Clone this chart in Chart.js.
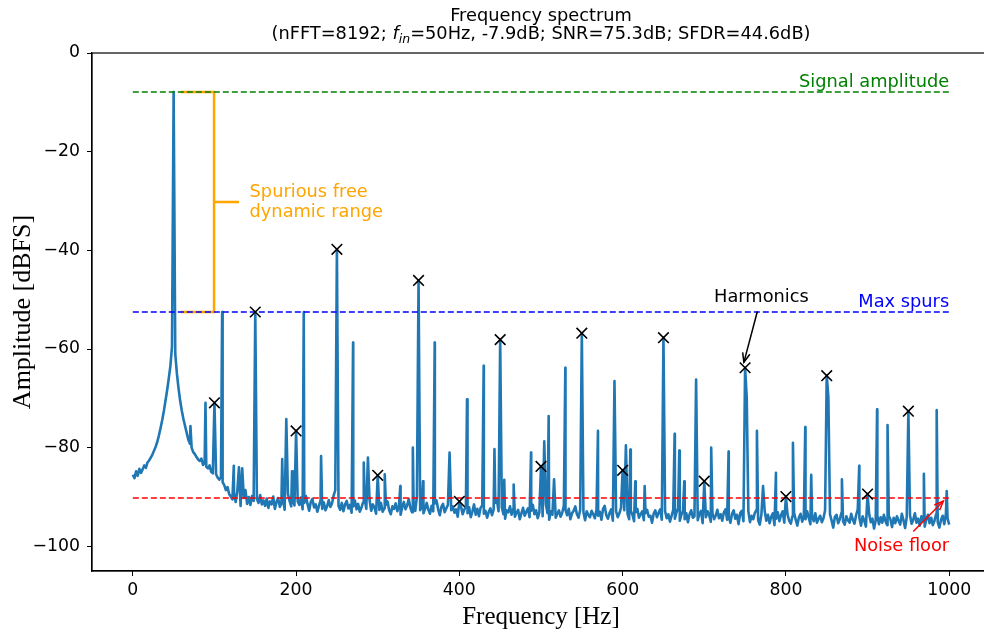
<!DOCTYPE html>
<html>
<head>
<meta charset="utf-8">
<title>Frequency spectrum</title>
<script src="https://cdn.jsdelivr.net/npm/chart.js@4.4.1/dist/chart.umd.min.js"></script>
<style>
    html, body { margin: 0; padding: 0; background: #fff; overflow: hidden; }
    #wrap { position: relative; width: 1000px; height: 633px; }
</style>
</head>
<body>
<div id="wrap"><canvas id="spectrum"></canvas></div>
<script>
// --- values ---
// noise floor / skirt of the spectrum, one value every 2 Hz from 0 to 1000 Hz
const noiseStepHz = 2;
const noiseDb = [
    -85.5,-86.2,-84.8,-85.7,-84.3,-85.1,-84.4,-83.6,-84.1,-83,-82.6,-82,-81.4,-80.6,-79.8,-78.8,-77.5,-76,-74.4,-72.6,
    -70.5,-68.4,-66,-63.5,-59.5,-56.7,-61,-65,-68,-70.5,-72.5,-74.2,-75.6,-77,-78.4,-79.2,-80,-80.9,-81.3,-81.9,
    -82.4,-82.7,-82.2,-83.5,-83.1,-83.9,-84.2,-83.6,-84.9,-85.2,-85.6,-85.4,-86.1,-86.5,-85.9,-87,-87.6,-88.6,-88,-89.4,
    -89.9,
    -90.5,-89.2,-91,-88.8,-90.6,-91.8,-89.5,-90.2,-88.6,-91.4,-90,-91.6,-89.8,-90.8,-92,-90.4,-91.2,-89.6,-91.5,-90.7,
    -91.8,-90.3,-92.2,-90.9,-91.5,-89.9,-92.4,-91,-90.2,-92,-91.3,-90.5,-92.6,-91.1,-89.4,-90.8,-91.9,-90.6,-91.7,-92.3,
    -90.9,-91.6,-90.1,-92.5,-91.2,-89.8,-91.4,-92.8,-91,-90.4,-92.1,-91.5,-93,-91.8,-90.7,-92.4,-91.1,-92.7,-91.9,-90.6,
    -92,-91.3,-89.7,-88.6,-90.5,-91.8,-92.6,-91.2,-92.9,-91.5,-90.8,-92.3,-91.6,-93.2,-91.9,-90.7,-92.5,-91.4,-93,-92.2,
    -91.1,-90.3,-92.4,-91.7,-90.6,-92.8,-91.5,-92.1,-93.4,-91.8,-92.6,-91.2,-93,-92.3,-91.6,-90.9,-92.7,-93.5,-91.9,-92.4,
    -91.3,-92.9,-91.8,-93.6,-92.1,-91,-92.5,-91.7,-90.4,-92.2,-93.1,-91.6,-92.8,-89.9,-91.5,-92.7,-91.9,-93.3,-92.4,-91.2,
    -92.6,-93.4,-91.8,-92.9,-91.3,-90.7,-92.5,-93.7,-92,-91.4,-93.1,-92.3,-91.6,-93.8,-92.7,-91.9,-93.2,-92.5,-94,-92.8,
    -91.9,-93.5,-92.6,-91.8,-93.3,-92.1,-94.1,-92.9,-91.5,-93.6,-92.4,-93.9,-92.2,-91.7,-93.4,-92.8,-94.2,-93,-92.3,-93.7,
    -92.5,-91.2,-90.6,-92.9,-93.8,-92.1,-93.5,-94.4,-92.7,-93.1,-91.9,-93.6,-92.4,-94,-93.2,-92.6,-94.5,-93.3,-92.2,-93.8,
    -93,-92.3,-94.1,-92.8,-91.6,-93.5,-92.7,-94.3,-93.1,-92.4,-93.9,-92.2,-91.5,-93.3,-94.6,-92.9,-93.6,-92.5,-94.2,-93.4,
    -92.7,-94,-93.2,-91.8,-92.6,-93.7,-92.4,-94.5,-93.3,-92.8,-91.9,-93.5,-94.2,-92.6,-93.9,-93.1,-94.7,-92.9,-93.6,-94.1,
    -92.8,-93.5,-94.3,-92.6,-93.8,-93,-94.6,-92.4,-91.8,-93.7,-94.4,-93.2,-92.5,-94.8,-93.6,-92.9,-94.1,-93.3,-92.2,-93.9,
    -92.7,-91.9,-93.4,-94.5,-92.8,-93.6,-94.9,-93.1,-92.4,-94.2,-93.5,-92.9,-94.7,-93.3,-92.6,-94,-93.8,-95.2,-93.4,-92.7,
    -94.1,-93.2,-92.5,-94.6,-93.7,-92.9,-94.3,-93.5,-95,-93.8,-92.6,-94.4,-93.1,-92.3,-94.8,-93.6,-92.8,-94.5,-93.3,-95.1,
    -93.5,-92.7,-94.2,-93.9,-92.4,-94.7,-93.4,-92.8,-95.3,-93.6,-94.1,-92.9,-93.7,-95,-93.2,-94.5,-93.8,-92.6,-94.3,-93.5,
    -94.8,-93.1,-92.5,-94.6,-93.9,-95.2,-93.4,-92.7,-94.4,-93.6,-95.5,-93.3,-92.8,-94.9,-93.7,-94.2,-92.9,-95.1,-93.8,-94.5,
    -93.2,-92.6,-94.7,-95.6,-93.5,-94.1,-92.8,-94.8,-93.6,-95.3,-94,-93.3,-95.7,-94.4,-93.1,-94.9,-93.7,-92.9,-95.2,-94.3,
    -93.6,-94.8,-95.4,-93.9,-93.2,-94.6,-95.8,-94.1,-93.4,-95,-93.8,-94.5,-92.9,-94.2,-95.5,-93.7,-94.9,-93.3,-95.2,-94.4,
    -93.8,-95.1,-94.3,-92.7,-94.6,-95.9,-93.5,-94.8,-96.2,-94,-93.6,-95.3,-94.5,-93.2,-94.9,-95.6,-93.9,-94.7,-95.2,-93.4,
    -94.6,-95.4,-93.7,-92.5,-94.2,-95.8,-93.9,-94.8,-96,-94.3,-93.5,-95.1,-94.4,-96.4,-94.7,-93.8,-95.5,-94.1,-95.2,-93.6,
    -94.9,-95.7,-93.8,-94.5,-96.1,-94.2,-95.3,-93.9,-94.8,-95.6,-93.4,-94.7,-96.3,-94.1,-95,-93.7,-95.4,-94.6,-93.3,-95.2,
    -94.4,-95.8,-93.9,-94.9,-96,-94.5,-93.6,-95.3,-94.2,-95.7,-94.8,-93.5,-95.1,-96.2,-94.6,-93.8,-95.5,-93.4,-94.3,-95.6
];

// fundamental
const signalHz = 50;
const signalDb = -7.9;

// non-harmonic spurs
const spurFreqHz = [70.6, 89, 109.4, 123.7, 130, 134, 183, 188, 195, 209.4, 230.6, 269.8, 282.9, 288, 308.6,
    327.7, 343, 355.5, 369.8, 388, 409.4, 429.8, 443, 455, 466.5, 487.8, 504, 509.4, 516, 529.8, 569.8, 590,
    604, 609.4, 615.5, 627, 663.7, 669.4, 675.5, 690, 708.5, 729.8, 752, 764.5, 772, 787.8, 808.6, 823.7, 831,
    852, 868.6, 889.8, 911.7, 924.5, 969, 984.7, 997];
const spurDb = [-75.6, -70.9, -52.5, -83.7, -84, -84.2, -82.3, -74.2, -84.8, -52.5, -81.7, -58.7, -83, -82, -85.4,
    -87.8, -80, -86.8, -58.7, -81, -70.2, -63.4, -80.3, -86.5, -87.5, -81, -78.7, -73.6, -86.4, -63.8, -76.6, -66.5,
    -79.5, -80.4, -86.8, -87.8, -77.2, -80.6, -86.8, -66.2, -80, -80.8, -69.8, -76.6, -87.8, -85.1, -79, -75.8, -85.5,
    -69.8, -86.4, -83.7, -72.2, -75.4, -85.3, -72.4, -88.8];

// harmonics (marked with x)
const harmonicFreqHz = [100, 150, 200, 250, 300, 350, 400, 450, 500, 550, 600, 650, 700, 750, 800, 850, 900, 950];
const harmonicDb = [-70.9, -52.5, -76.6, -39.8, -85.6, -46.1, -90.9, -58.1, -83.8, -56.8, -84.6, -57.7, -86.8,
    -63.8, -89.9, -65.4, -89.4, -72.6];

// reference levels
const maxSpurDb = -52.5;
const noiseFloorDb = -90.2;
const levelSpanHz = [0, 1000];
const sfdrBracketHz = [58.5, 99.5, 130];

const xTicks = [0, 200, 400, 600, 800, 1000];
const yTicks = [-100, -80, -60, -40, -20, 0];

const titleLine1 = 'Frequency spectrum';

// --- build the spectrum: noise grid plus the peaks ---
const peaks = [{ x: signalHz, y: signalDb }]
    .concat(spurFreqHz.map((f, i) => ({ x: f, y: spurDb[i] })))
    .concat(harmonicFreqHz.map((f, i) => ({ x: f, y: harmonicDb[i] })));
const spectrum = noiseDb
    .map((v, i) => ({ x: i * noiseStepHz, y: v }))
    .filter(p => !peaks.some(q => Math.abs(q.x - p.x) < 0.01))
    .concat(peaks)
    .sort((a, b) => a.x - b.x);

const levelLine = db => levelSpanHz.map(f => ({ x: f, y: db }));
const sfdrMid = (signalDb + maxSpurDb) / 2;
const bracket = [
    { x: sfdrBracketHz[0], y: signalDb }, { x: sfdrBracketHz[1], y: signalDb },
    { x: sfdrBracketHz[1], y: maxSpurDb }, { x: sfdrBracketHz[0], y: maxSpurDb },
    { x: sfdrBracketHz[1], y: null },
    { x: sfdrBracketHz[1], y: sfdrMid }, { x: sfdrBracketHz[2], y: sfdrMid }
];

const SANS = '"DejaVu Sans"';
const FS = 17.8;      // annotation / title text
const TICK_FS = 17.3;

function drawArrow(ctx, x0, y0, x1, y1, color) {
    ctx.strokeStyle = color;
    ctx.lineWidth = 1.5;
    ctx.beginPath();
    ctx.moveTo(x0, y0);
    ctx.lineTo(x1, y1);
    ctx.stroke();
    const a = Math.atan2(y1 - y0, x1 - x0);
    const len = 10, spread = 0.38;
    ctx.beginPath();
    ctx.moveTo(x1 - len * Math.cos(a - spread), y1 - len * Math.sin(a - spread));
    ctx.lineTo(x1, y1);
    ctx.lineTo(x1 - len * Math.cos(a + spread), y1 - len * Math.sin(a + spread));
    ctx.stroke();
}

// titles, frame and text annotations
const decorations = {
    id: 'decorations',
    afterDatasetsDraw(chart) {
        const { ctx, scales: { x, y } } = chart;
        const px = v => x.getPixelForValue(v);
        const py = v => y.getPixelForValue(v);
        ctx.save();
        ctx.textBaseline = 'alphabetic';
        ctx.font = FS + 'px ' + SANS;

        ctx.textAlign = 'right';
        ctx.fillStyle = '#008000';
        ctx.fillText('Signal amplitude', px(1000), py(signalDb) - 5);
        ctx.fillStyle = '#0000ff';
        ctx.fillText('Max spurs', px(1000), py(maxSpurDb) - 5);
        ctx.fillStyle = '#ff0000';
        ctx.fillText('Noise floor', px(1000), py(-101));
        drawArrow(ctx, px(956), py(-97), px(993), py(-90.8), '#ff0000');

        ctx.textAlign = 'left';
        ctx.fillStyle = '#ffa500';
        ctx.fillText('Spurious free', px(143), py(sfdrMid) - 4.5);
        ctx.fillText('dynamic range', px(143), py(sfdrMid) + 15);

        ctx.textAlign = 'center';
        ctx.fillStyle = '#000';
        ctx.fillText('Harmonics', px(770), py(-50.4));
        drawArrow(ctx, px(765), py(-52.4), px(748.5), py(-62.7), '#000');
        ctx.restore();
    },
    afterDraw(chart) {
        const { ctx, chartArea } = chart;
        ctx.save();
        ctx.strokeStyle = '#000';
        ctx.lineWidth = 1.2;
        ctx.strokeRect(chartArea.left, chartArea.top, chartArea.right - chartArea.left, chartArea.bottom - chartArea.top);

        const cx = (chartArea.left + chartArea.right) / 2;
        ctx.fillStyle = '#000';
        ctx.textBaseline = 'alphabetic';
        ctx.textAlign = 'center';
        ctx.font = FS + 'px ' + SANS;
        ctx.fillText(titleLine1, cx, 21);

        const parts = [
            { t: '(nFFT=8192; ', font: FS + 'px ' + SANS, dy: 0 },
            { t: 'f', font: 'italic ' + FS + 'px ' + SANS, dy: 0 },
            { t: 'in', font: 'italic ' + (FS * 0.7).toFixed(1) + 'px ' + SANS, dy: 3.5 },
            { t: '=50Hz, -7.9dB; SNR=75.3dB; SFDR=44.6dB)', font: FS + 'px ' + SANS, dy: 0 }
        ];
        let total = 0;
        parts.forEach(p => { ctx.font = p.font; p.w = ctx.measureText(p.t).width; total += p.w; });
        let xPos = cx - total / 2;
        ctx.textAlign = 'left';
        parts.forEach(p => {
            ctx.font = p.font;
            ctx.fillText(p.t, xPos, 39 + p.dy);
            xPos += p.w;
        });
        ctx.restore();
    }
};

const ctx = document.getElementById('spectrum').getContext('2d');
new Chart(ctx, {
    type: 'line',
    data: {
        datasets: [
            {
                label: 'Harmonics',
                data: harmonicFreqHz.map((f, i) => ({ x: f, y: harmonicDb[i] })),
                showLine: false,
                pointStyle: 'crossRot',
                pointRadius: 7.5,
                pointBorderWidth: 1.6,
                pointBorderColor: '#000',
                pointBackgroundColor: '#000',
                order: 1
            },
            {
                label: 'Signal amplitude',
                data: levelLine(signalDb),
                borderColor: '#008000', borderWidth: 1.5, borderDash: [6, 3],
                pointRadius: 0, order: 2
            },
            {
                label: 'Max spurs',
                data: levelLine(maxSpurDb),
                borderColor: '#0000ff', borderWidth: 1.5, borderDash: [6, 3],
                pointRadius: 0, order: 2
            },
            {
                label: 'Noise floor',
                data: levelLine(noiseFloorDb),
                borderColor: '#ff0000', borderWidth: 1.5, borderDash: [6, 3],
                pointRadius: 0, order: 2
            },
            {
                label: 'SFDR',
                data: bracket,
                borderColor: '#ffa500', borderWidth: 2.5,
                pointRadius: 0, spanGaps: false, order: 2
            },
            {
                label: 'Spectrum',
                data: spectrum,
                borderColor: '#1f77b4',
                borderWidth: 2.6,
                borderJoinStyle: 'round',
                pointRadius: 0,
                tension: 0,
                order: 3
            }
        ]
    },
    options: {
        responsive: true,
        maintainAspectRatio: false,
        animation: false,
        layout: { padding: { top: 53, left: 0, right: 10, bottom: 0 } },
        plugins: {
            legend: { display: false },
            tooltip: { enabled: false }
        },
        scales: {
            x: {
                type: 'linear',
                min: -50,
                max: 1050,
                afterBuildTicks: s => { s.ticks = xTicks.map(v => ({ value: v })); },
                afterFit: s => { s.height = 62; },
                ticks: {
                    font: { family: 'DejaVu Sans', size: TICK_FS }, color: '#000', padding: 4, maxRotation: 0,
                    callback: v => String(v)
                },
                grid: { drawOnChartArea: false, tickLength: 5, tickColor: '#000', tickWidth: 1 },
                border: { color: '#000', width: 1.2 },
                title: {
                    display: true, text: 'Frequency [Hz]', color: '#000',
                    font: { family: 'Liberation Serif', size: 25 },
                    padding: { top: 0, bottom: 1 }
                }
            },
            y: {
                type: 'linear',
                min: -105,
                max: 0,
                afterBuildTicks: s => { s.ticks = yTicks.map(v => ({ value: v })); },
                afterFit: s => { s.width = 92; },
                ticks: {
                    font: { family: 'DejaVu Sans', size: TICK_FS }, color: '#000', padding: 7,
                    callback: v => (v < 0 ? '\u2212' + Math.abs(v) : String(v))
                },
                grid: { drawOnChartArea: false, tickLength: 5, tickColor: '#000', tickWidth: 1 },
                border: { color: '#000', width: 1.2 },
                title: {
                    display: true, text: 'Amplitude [dBFS]', color: '#000',
                    font: { family: 'Liberation Serif', size: 26 },
                    padding: { top: 8, bottom: 0 }
                }
            }
        }
    },
    plugins: [decorations]
});
</script>
</body>
</html>
